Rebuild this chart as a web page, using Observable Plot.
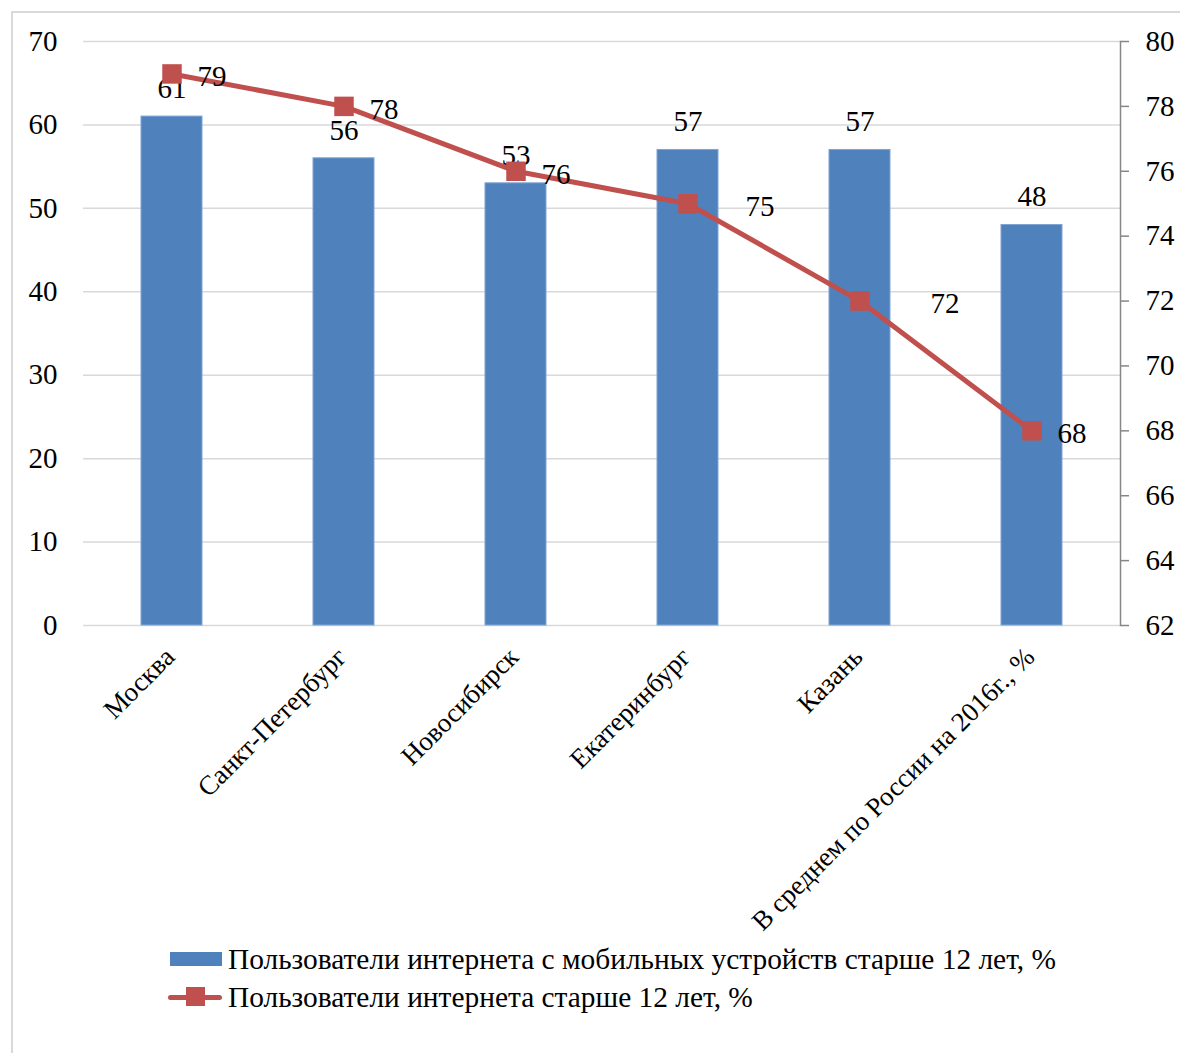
<!DOCTYPE html>
<html>
<head>
<meta charset="utf-8">
<script src="https://cdn.jsdelivr.net/npm/d3@7"></script>
<script src="https://cdn.jsdelivr.net/npm/@observablehq/plot@0.6"></script>
<style>
  html, body { margin: 0; padding: 0; background: #fff; }
  #wrap { position: relative; width: 1180px; height: 1053px; overflow: hidden; font-family: "Liberation Serif", "Times New Roman", serif; }
  #frame { position: absolute; left: 11px; top: 11px; width: 1200px; height: 1100px; border: 2px solid #D9D9D9; box-sizing: border-box; }
  #chart { position: absolute; left: 0; top: 0; }
  .leg { position: absolute; left: 168px; font-size: 29.4px; color: #000; display: flex; align-items: center; height: 32px; white-space: nowrap; z-index: 2; }
  .sw { width: 56px; height: 30px; position: relative; margin-right: 4px; }
</style>
</head>
<body>
<div id="wrap">
  <div id="frame"></div>
  <div id="chart"></div>
  <div class="leg" style="top:943px">
    <div class="sw"><div style="position:absolute;left:2px;top:8px;width:52px;height:14px;background:#4F81BD"></div></div>
    <span id="leg1"></span>
  </div>
  <div class="leg" style="top:981px">
    <div class="sw">
      <div style="position:absolute;left:0;top:13px;width:54px;height:5px;background:#C0504D;border-radius:2.5px"></div>
      <div style="position:absolute;left:18px;top:5px;width:19px;height:19px;background:#C0504D"></div>
    </div>
    <span id="leg2"></span>
  </div>
</div>
<script>
const categories = ["Москва", "Санкт-Петербург", "Новосибирск", "Екатеринбург", "Казань", "В среднем по России на 2016г., %"];
const mobileUsers = [61, 56, 53, 57, 57, 48];
const internetUsers = [79, 78, 76, 75, 72, 68];
const leftTicks = [0, 10, 20, 30, 40, 50, 60, 70];
const rightTicks = [62, 64, 66, 68, 70, 72, 74, 76, 78, 80];
const seriesNames = ["Пользователи интернета с мобильных устройств старше 12 лет, %", "Пользователи интернета старше 12 лет, %"];

document.getElementById("leg1").textContent = seriesNames[0];
document.getElementById("leg2").textContent = seriesNames[1];

const leftMax = 70, rMin = 62, rMax = 80;
const toLeft = v => (v - rMin) / (rMax - rMin) * leftMax;
const fromLeft = v => Math.round(v / leftMax * (rMax - rMin) + rMin);

const data = categories.map((c, i) => ({cat: c, bar: mobileUsers[i], line: internetUsers[i], i}));

const FONT = "Liberation Serif, Times New Roman, serif";
const FS = 29;
const plot = Plot.plot({
  width: 1180,
  height: 1053,
  marginTop: 41,
  marginBottom: 428,
  marginLeft: 83,
  marginRight: 60,
  style: {fontFamily: FONT, fontSize: FS + "px", color: "#000", background: "transparent"},
  x: {domain: categories, paddingInner: 0.647, paddingOuter: 0.3235, axis: null},
  y: {domain: [0, leftMax], axis: null},
  marks: [
    Plot.ruleY(leftTicks, {stroke: "#D9D9D9", strokeWidth: 1.5}),
    Plot.axisY(leftTicks, {anchor: "left", label: null, tickSize: 0, tickPadding: 26, fontSize: FS, fontFamily: FONT, fill: "#000"}),
    Plot.axisY(rightTicks.map(toLeft), {anchor: "right", label: null, tickSize: 8, tickPadding: 17, stroke: "#868686", strokeWidth: 1.5, fontSize: FS, fontFamily: FONT, fill: "#000", tickFormat: fromLeft}),
    Plot.frame({anchor: "right", stroke: "#868686", strokeWidth: 1.5}),
    Plot.barY(data, {x: "cat", y: "bar", fill: "#4F81BD", stroke: "#7FA4D4", strokeWidth: 1}),
    Plot.text(data, {x: "cat", y: "bar", text: d => String(d.bar), dy: -28, lineAnchor: "middle", fontSize: FS, fontFamily: FONT, fill: "#000"}),
    Plot.line(data, {x: "cat", y: d => toLeft(d.line), stroke: "#C0504D", strokeWidth: 5}),
    Plot.dot(data, {x: "cat", y: d => toLeft(d.line), symbol: "square", r: 11, fill: "#C0504D", stroke: "none"}),
    Plot.text(data.filter(d => d.i <= 2 || d.i === 5), {x: "cat", y: d => toLeft(d.line), text: d => String(d.line), dx: 40, dy: 3, lineAnchor: "middle", fontSize: FS, fontFamily: FONT, fill: "#000"}),
    Plot.text(data.filter(d => d.i === 3), {x: "cat", y: d => toLeft(d.line), text: d => String(d.line), dx: 72, dy: 3, lineAnchor: "middle", fontSize: FS, fontFamily: FONT, fill: "#000"}),
    Plot.text(data.filter(d => d.i === 4), {x: "cat", y: d => toLeft(d.line), text: d => String(d.line), dx: 85, dy: 3, lineAnchor: "middle", fontSize: FS, fontFamily: FONT, fill: "#000"}),
    Plot.text(data, {x: "cat", y: 0, text: "cat", rotate: -45, textAnchor: "end", lineAnchor: "middle", dx: -2, dy: 27, fontSize: 27, fontFamily: FONT, fill: "#000"})
  ]
});
document.getElementById("chart").appendChild(plot);
</script>
</body>
</html>
